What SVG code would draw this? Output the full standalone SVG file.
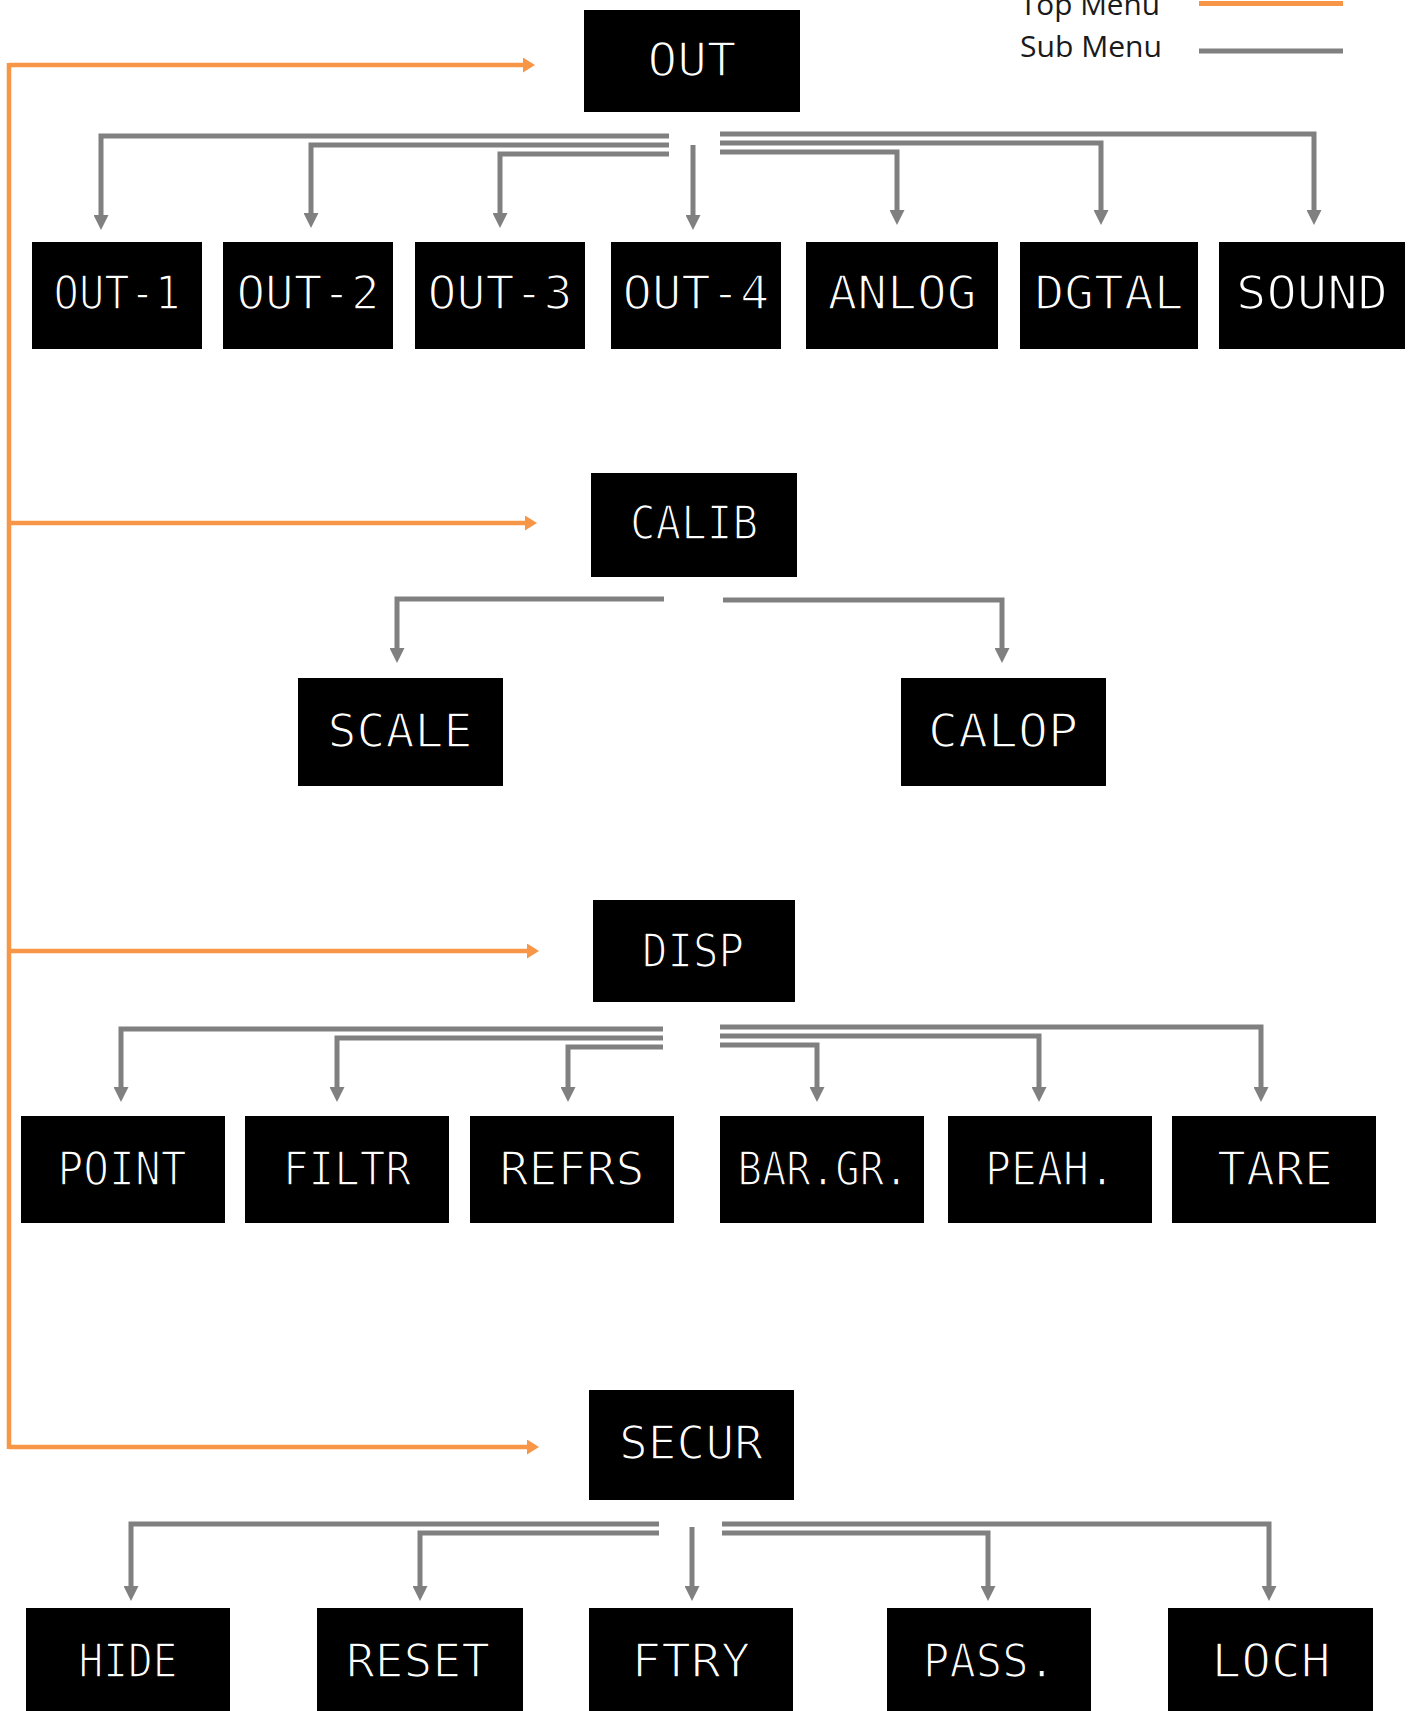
<svg xmlns="http://www.w3.org/2000/svg" width="1414" height="1711" viewBox="0 0 1414 1711">
<style>
.box{fill:#000}
.lcd{font-family:"DejaVu Sans Mono","Liberation Mono",monospace;font-size:46px;fill:#fff;stroke:#000;stroke-width:1.6;text-anchor:middle}
.sub{fill:none;stroke:#808080;stroke-width:5;marker-end:url(#ga)}
.top{fill:none;stroke:#F79646;stroke-width:4.5;marker-end:url(#oa)}
.leg{font-family:"Open Sans","Liberation Sans",sans-serif;font-size:29px;fill:#1a1a1a;text-anchor:end}
</style>
<defs>
<marker id="ga" markerUnits="userSpaceOnUse" markerWidth="15" markerHeight="15" refX="7" refY="7.5" orient="auto"><path d="M0,0 L15,7.5 L0,15 z" fill="#808080"/></marker>
<marker id="oa" markerUnits="userSpaceOnUse" markerWidth="12" markerHeight="15" refX="2" refY="7.5" orient="auto"><path d="M0,0 L12,7.5 L0,15 z" fill="#F79646"/></marker>
</defs>
<rect width="1414" height="1711" fill="#fff"/>
<g id="legend">
<text class="leg" x="1160" y="15" textLength="140" lengthAdjust="spacingAndGlyphs">Top Menu</text>
<text class="leg" x="1162" y="57" textLength="142" lengthAdjust="spacingAndGlyphs">Sub Menu</text>
<line x1="1199" y1="3.5" x2="1343" y2="3.5" stroke="#F79646" stroke-width="5"/>
<line x1="1199" y1="51" x2="1343" y2="51" stroke="#808080" stroke-width="5"/>
</g>
<g id="connectors">
<path d="M9,63 V1449" fill="none" stroke="#F79646" stroke-width="4.5"/>
<path class="top" d="M9,65 H525"/>
<path class="top" d="M9,523 H527"/>
<path class="top" d="M9,951 H529"/>
<path class="top" d="M9,1447 H529"/>
<path class="sub" d="M669,136 H101 V222"/>
<path class="sub" d="M669,145 H311 V220"/>
<path class="sub" d="M669,154 H500 V220"/>
<path class="sub" d="M693,145 V222"/>
<path class="sub" d="M720,134 H1314 V217"/>
<path class="sub" d="M720,143 H1101 V217"/>
<path class="sub" d="M720,152 H897 V217"/>
<path class="sub" d="M664,599 H397 V655"/>
<path class="sub" d="M723,600 H1002 V655"/>
<path class="sub" d="M663,1029 H121 V1094"/>
<path class="sub" d="M663,1038 H337 V1094"/>
<path class="sub" d="M663,1047 H568 V1094"/>
<path class="sub" d="M720,1027 H1261 V1094"/>
<path class="sub" d="M720,1036 H1039 V1094"/>
<path class="sub" d="M720,1045 H817 V1094"/>
<path class="sub" d="M659,1524 H131 V1593"/>
<path class="sub" d="M659,1533 H420 V1593"/>
<path class="sub" d="M692,1527 V1593"/>
<path class="sub" d="M722,1524 H1269 V1593"/>
<path class="sub" d="M722,1533 H988 V1593"/>
</g>
<g id="n-out"><rect class="box" x="584" y="10" width="216" height="102"/><text class="lcd" x="692" y="76" textLength="89" lengthAdjust="spacingAndGlyphs">OUT</text></g>
<g id="n-out1"><rect class="box" x="32" y="242" width="170" height="107"/><text class="lcd" x="117" y="309" textLength="127" lengthAdjust="spacingAndGlyphs">OUT-1</text></g>
<g id="n-out2"><rect class="box" x="223" y="242" width="170" height="107"/><text class="lcd" x="308" y="309" textLength="143" lengthAdjust="spacingAndGlyphs">OUT-2</text></g>
<g id="n-out3"><rect class="box" x="415" y="242" width="170" height="107"/><text class="lcd" x="500" y="309" textLength="145" lengthAdjust="spacingAndGlyphs">OUT-3</text></g>
<g id="n-out4"><rect class="box" x="611" y="242" width="170" height="107"/><text class="lcd" x="696" y="309" textLength="147" lengthAdjust="spacingAndGlyphs">OUT-4</text></g>
<g id="n-anlog"><rect class="box" x="806" y="242" width="192" height="107"/><text class="lcd" x="902" y="309" textLength="149" lengthAdjust="spacingAndGlyphs">ANLOG</text></g>
<g id="n-dgtal"><rect class="box" x="1020" y="242" width="178" height="107"/><text class="lcd" x="1109" y="309" textLength="149" lengthAdjust="spacingAndGlyphs">DGTAL</text></g>
<g id="n-sound"><rect class="box" x="1219" y="242" width="186" height="107"/><text class="lcd" x="1312" y="309" textLength="152" lengthAdjust="spacingAndGlyphs">SOUND</text></g>
<g id="n-calib"><rect class="box" x="591" y="473" width="206" height="104"/><text class="lcd" x="694" y="539" textLength="128" lengthAdjust="spacingAndGlyphs">CALIB</text></g>
<g id="n-scale"><rect class="box" x="298" y="678" width="205" height="108"/><text class="lcd" x="400" y="747" textLength="145" lengthAdjust="spacingAndGlyphs">SCALE</text></g>
<g id="n-calop"><rect class="box" x="901" y="678" width="205" height="108"/><text class="lcd" x="1003" y="747" textLength="150" lengthAdjust="spacingAndGlyphs">CALOP</text></g>
<g id="n-disp"><rect class="box" x="593" y="900" width="202" height="102"/><text class="lcd" x="693" y="967" textLength="102" lengthAdjust="spacingAndGlyphs">DISP</text></g>
<g id="n-point"><rect class="box" x="21" y="1116" width="204" height="107"/><text class="lcd" x="122" y="1185" textLength="129" lengthAdjust="spacingAndGlyphs">POINT</text></g>
<g id="n-filtr"><rect class="box" x="245" y="1116" width="204" height="107"/><text class="lcd" x="347" y="1185" textLength="128" lengthAdjust="spacingAndGlyphs">FILTR</text></g>
<g id="n-refrs"><rect class="box" x="470" y="1116" width="204" height="107"/><text class="lcd" x="572" y="1185" textLength="145" lengthAdjust="spacingAndGlyphs">REFRS</text></g>
<g id="n-bargr"><rect class="box" x="720" y="1116" width="204" height="107"/><text class="lcd" x="823" y="1185" textLength="171" lengthAdjust="spacingAndGlyphs">BAR.GR.</text></g>
<g id="n-peah"><rect class="box" x="948" y="1116" width="204" height="107"/><text class="lcd" x="1050" y="1185" textLength="130" lengthAdjust="spacingAndGlyphs">PEAH.</text></g>
<g id="n-tare"><rect class="box" x="1172" y="1116" width="204" height="107"/><text class="lcd" x="1275" y="1185" textLength="116" lengthAdjust="spacingAndGlyphs">TARE</text></g>
<g id="n-secur"><rect class="box" x="589" y="1390" width="205" height="110"/><text class="lcd" x="691" y="1459" textLength="144" lengthAdjust="spacingAndGlyphs">SECUR</text></g>
<g id="n-hide"><rect class="box" x="26" y="1608" width="204" height="103"/><text class="lcd" x="128" y="1677" textLength="99" lengthAdjust="spacingAndGlyphs">HIDE</text></g>
<g id="n-reset"><rect class="box" x="317" y="1608" width="206" height="103"/><text class="lcd" x="418" y="1677" textLength="144" lengthAdjust="spacingAndGlyphs">RESET</text></g>
<g id="n-ftry"><rect class="box" x="589" y="1608" width="204" height="103"/><text class="lcd" x="691" y="1677" textLength="119" lengthAdjust="spacingAndGlyphs">FTRY</text></g>
<g id="n-pass"><rect class="box" x="887" y="1608" width="204" height="103"/><text class="lcd" x="989" y="1677" textLength="132" lengthAdjust="spacingAndGlyphs">PASS.</text></g>
<g id="n-loch"><rect class="box" x="1168" y="1608" width="205" height="103"/><text class="lcd" x="1271" y="1677" textLength="119" lengthAdjust="spacingAndGlyphs">LOCH</text></g>
</svg>
